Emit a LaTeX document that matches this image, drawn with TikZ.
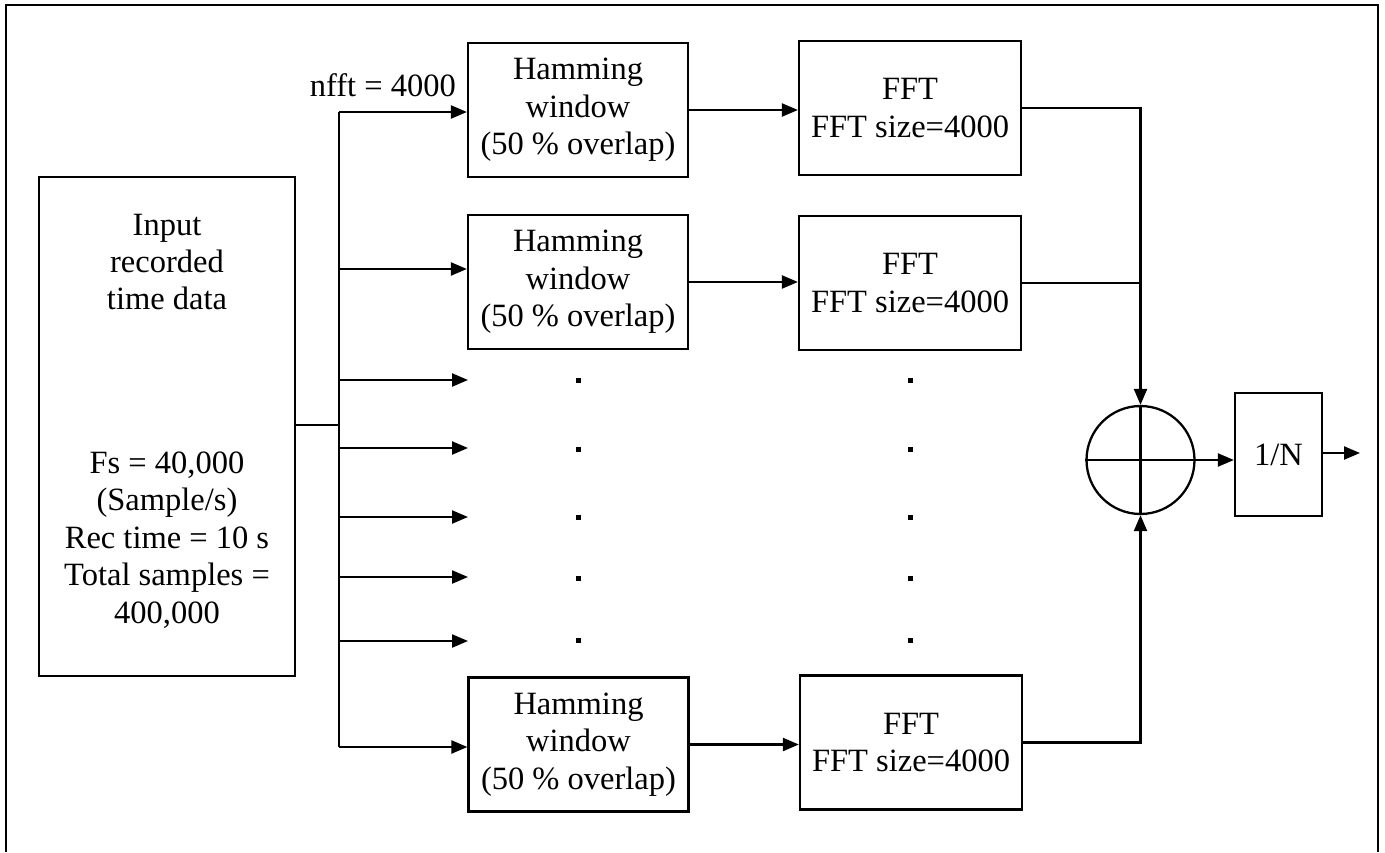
\documentclass[tikz,border=0pt]{standalone}
\usepackage{fontspec}
\setmainfont{Liberation Serif}
\usetikzlibrary{arrows.meta,calc}
\begin{document}
\begin{tikzpicture}[x=0.02cm,y=-0.02cm,
  font=\fontsize{18.5}{21.3}\selectfont,
  line width=1.3pt,
  box/.style={draw,line width=1.3pt,rectangle,inner sep=0pt,align=center},
  hbox/.style={box,minimum width=4.4cm,minimum height=2.68cm},
  fbox/.style={box,minimum width=4.44cm,minimum height=2.68cm},
  arr/.style={-{Triangle[length=0.32cm,width=0.26cm]}},
  dotm/.style={fill,rectangle,minimum size=0.1cm,inner sep=0pt},
  txt/.style={align=center,inner sep=0pt}]
\useasboundingbox (0,0) rectangle (1385,852);
% frame
\draw[line width=1.2pt] (6,852) -- (6,5) -- (1378,5) -- (1378,852);
% input box
\node[box,minimum width=5.12cm,minimum height=9.98cm] (inbox) at (167,426.5) {};
\node[txt] (intxt) at (167,262) {Input\\recorded\\time data};
\node[txt] (spec) at (167,540) {Fs = 40,000\\(Sample/s)\\Rec time = 10 s\\Total samples =\\400,000};
% hamming boxes
\node[hbox] (h1) at (578,110) {Hamming\\window\\(50 \% overlap)};
\node[hbox] (h2) at (578,282) {Hamming\\window\\(50 \% overlap)};
\node[hbox] (h3) at (578.5,744.5) {Hamming\\window\\(50 \% overlap)};
% fft boxes
\node[fbox] (f1) at (910,108) {FFT\\FFT size=4000};
\node[fbox] (f2) at (910,283) {FFT\\FFT size=4000};
\node[fbox] (f3) at (911,742.5) {FFT\\FFT size=4000};
% sum and 1/N
\node[draw,circle,minimum size=2.16cm,inner sep=0pt,line width=1.3pt] (sum) at (1140.5,460) {};
\node[box,minimum width=1.74cm,minimum height=2.46cm] (nbox) at (1278.5,454.5) {1/N};
% label
\node[anchor=east,inner sep=0pt] (nfft) at (457,85) {nfft = 4000};
% bus
\coordinate (btop) at (339,112);
\coordinate (bbot) at (339,747);
\coordinate (bin) at (339,425);
\coordinate (b2) at (339,269);
\draw (inbox.east |- bin) -- (bin);
\draw (btop) -- (bbot);
\draw[arr] (btop) -- (btop -| h1.west);
\draw[arr] (b2) -- (b2 -| h2.west);
\draw[arr] (bbot) -- (bbot -| h3.west);
\foreach \i/\yy in {3/380,4/448,5/517,6/577,7/641}{
  \coordinate (bs\i) at (339,\yy);
  \coordinate (be\i) at (468,\yy);
  \draw[arr] (bs\i) -- (be\i);
}
% dots
\foreach \i/\yy in {1/380,2/449,3/517,4/578,5/640}{
  \node[dotm] (dh\i) at (578,\yy) {};
  \node[dotm] (df\i) at (910,\yy) {};
}
% hamming -> fft
\draw[arr] (h1.east) -- (h1.east -| f1.west);
\draw[arr] (h2.east) -- (h2.east -| f2.west);
\draw[arr] (h3.east) -- (h3.east -| f3.west);
% fft -> sum
\draw[arr] (f1.east) -| (sum.north);
\draw (f2.east) -- (f2.east -| sum.north);
\draw[arr] (f3.east) -| (sum.south);
\draw (sum.north) -- (sum.south);
\draw (sum.west) -- (sum.east);
\draw[arr] (sum.east) -- (sum.east -| nbox.west);
\coordinate (nout) at (1360,453);
\draw[arr] (nbox.east |- nout) -- (nout);
\end{tikzpicture}
\end{document}
